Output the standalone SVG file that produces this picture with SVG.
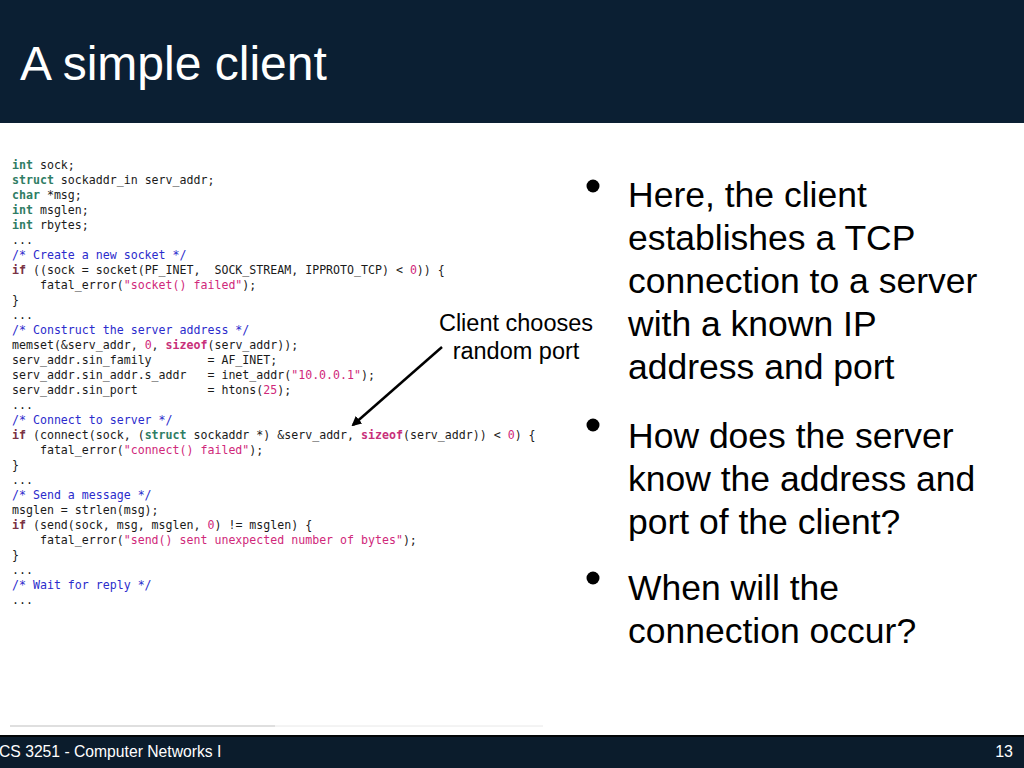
<svg xmlns="http://www.w3.org/2000/svg" width="1024" height="768" viewBox="0 0 1024 768">
<defs>
<style>
.code{font-family:"DejaVu Sans Mono","Liberation Mono",monospace;font-size:11.6px;fill:#1a1a1a}
.t{fill:#2f7d64;font-weight:bold}
.k{fill:#7a3344;font-weight:bold}
.s{fill:#c8307a;font-weight:bold}
.c{fill:#2b2bcc}
.q{fill:#d0287a}
.sans{font-family:"Liberation Sans",Arial,sans-serif}
.bul{font-family:"Liberation Sans",Arial,sans-serif;font-size:35.5px;fill:#000}
</style>
<marker id="ah" markerWidth="10" markerHeight="10" refX="8" refY="5" orient="auto" markerUnits="userSpaceOnUse">
<path d="M0,0 L10,5 L0,10 z" fill="#000"/>
</marker>
</defs>
<rect x="0" y="0" width="1024" height="768" fill="#ffffff"/>
<g id="title-bar">
<rect x="0" y="0" width="1024" height="123" fill="#0b1f33"/>
<text x="20" y="80" class="sans" font-size="48" fill="#ffffff">A simple client</text>
</g>
<g id="code" class="code">
<text x="12" y="169"><tspan class="t">int</tspan> sock;</text>
<text x="12" y="184"><tspan class="t">struct</tspan> sockaddr_in serv_addr;</text>
<text x="12" y="199"><tspan class="t">char</tspan> *msg;</text>
<text x="12" y="214"><tspan class="t">int</tspan> msglen;</text>
<text x="12" y="229"><tspan class="t">int</tspan> rbytes;</text>
<text x="12" y="244">...</text>
<text x="12" y="259" class="c">/* Create a new socket */</text>
<text x="12" y="274"><tspan class="k">if</tspan> ((sock = socket(PF_INET,&#160;&#160;SOCK_STREAM, IPPROTO_TCP) &lt; <tspan class="q">0</tspan>)) {</text>
<text x="12" y="289">&#160;&#160;&#160;&#160;fatal_error(<tspan class="q">"socket()&#160;failed"</tspan>);</text>
<text x="12" y="304">}</text>
<text x="12" y="319">...</text>
<text x="12" y="334" class="c">/* Construct the server address */</text>
<text x="12" y="349">memset(&amp;serv_addr, <tspan class="q">0</tspan>, <tspan class="s">sizeof</tspan>(serv_addr));</text>
<text x="12" y="364">serv_addr.sin_family&#160;&#160;&#160;&#160;&#160;&#160;&#160;&#160;=&#160;AF_INET;</text>
<text x="12" y="379">serv_addr.sin_addr.s_addr&#160;&#160;&#160;=&#160;inet_addr(<tspan class="q">"10.0.0.1"</tspan>);</text>
<text x="12" y="394">serv_addr.sin_port&#160;&#160;&#160;&#160;&#160;&#160;&#160;&#160;&#160;&#160;=&#160;htons(<tspan class="q">25</tspan>);</text>
<text x="12" y="409">...</text>
<text x="12" y="424" class="c">/* Connect to server */</text>
<text x="12" y="439"><tspan class="k">if</tspan> (connect(sock, (<tspan class="t">struct</tspan> sockaddr *) &amp;serv_addr, <tspan class="s">sizeof</tspan>(serv_addr)) &lt; <tspan class="q">0</tspan>) {</text>
<text x="12" y="454">&#160;&#160;&#160;&#160;fatal_error(<tspan class="q">"connect()&#160;failed"</tspan>);</text>
<text x="12" y="469">}</text>
<text x="12" y="484">...</text>
<text x="12" y="499" class="c">/* Send a message */</text>
<text x="12" y="514">msglen = strlen(msg);</text>
<text x="12" y="529"><tspan class="k">if</tspan> (send(sock, msg, msglen, <tspan class="q">0</tspan>) != msglen) {</text>
<text x="12" y="544">&#160;&#160;&#160;&#160;fatal_error(<tspan class="q">"send()&#160;sent unexpected number of bytes"</tspan>);</text>
<text x="12" y="559">}</text>
<text x="12" y="574">...</text>
<text x="12" y="589" class="c">/* Wait for reply */</text>
<text x="12" y="604">...</text>
</g>
<g id="callout">
<text x="516" y="331" class="sans" font-size="23.5" text-anchor="middle" fill="#000">Client chooses</text>
<text x="516" y="359" class="sans" font-size="23.5" text-anchor="middle" fill="#000">random port</text>
</g>
<g id="connectors">
<line x1="442" y1="347" x2="353" y2="425" stroke="#000" stroke-width="2.5" marker-end="url(#ah)"/>
</g>
<g id="bullets">
<circle cx="593" cy="186" r="6.5" fill="#000"/>
<text class="bul" x="628" y="207">Here, the client</text>
<text class="bul" x="628" y="250">establishes a TCP</text>
<text class="bul" x="628" y="293">connection to a server</text>
<text class="bul" x="628" y="336">with a known IP</text>
<text class="bul" x="628" y="379">address and port</text>
<circle cx="593" cy="425" r="6.5" fill="#000"/>
<text class="bul" x="628" y="448">How does the server</text>
<text class="bul" x="628" y="491">know the address and</text>
<text class="bul" x="628" y="534">port of the client?</text>
<circle cx="593" cy="578" r="6.5" fill="#000"/>
<text class="bul" x="628" y="600">When will the</text>
<text class="bul" x="628" y="643">connection occur?</text>
</g>
<g id="rule">
<line x1="10" y1="726" x2="275" y2="726" stroke="#d4d4d4" stroke-width="1.5"/>
<line x1="275" y1="726" x2="543" y2="726" stroke="#e8e8e8" stroke-width="1"/>
</g>
<g id="footer">
<rect x="0" y="735" width="1024" height="33" fill="#0b1c2c"/>
<rect x="0" y="735" width="1024" height="2" fill="#020608"/>
<text x="-1" y="757" class="sans" font-size="15.7" fill="#ffffff">CS 3251 - Computer Networks I</text>
<text x="1013" y="757" class="sans" font-size="16" fill="#ffffff" text-anchor="end">13</text>
</g>
</svg>
